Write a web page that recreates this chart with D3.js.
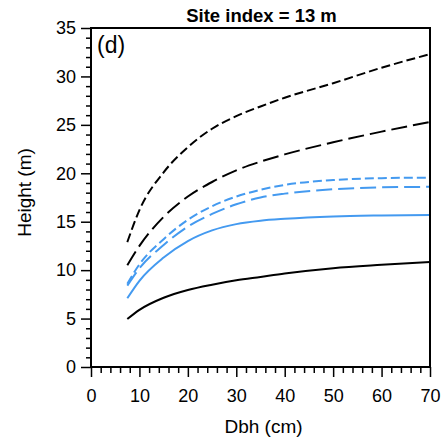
<!DOCTYPE html>
<html>
<head>
<meta charset="utf-8">
<script src="https://cdn.jsdelivr.net/npm/d3@7"></script>
<style>
  body { margin: 0; background: #fff; }
  svg { display: block; font-family: "Liberation Sans", Arial, sans-serif; }
</style>
</head>
<body>
<svg id="chart" width="448" height="442"></svg>
<script>
// ---- data ----
const dbh = [7.5, 10, 15, 20, 25, 30, 35, 40, 50, 60, 70];
const blackSolid  = [4.95, 5.9, 7.15, 7.95, 8.5, 8.95, 9.3, 9.65, 10.2, 10.55, 10.85];
const blueSolid   = [7.1, 8.9, 11.3, 13.0, 14.1, 14.75, 15.1, 15.3, 15.55, 15.65, 15.7];
const blueLong    = [8.4, 10.2, 12.6, 14.5, 15.8, 16.8, 17.5, 17.9, 18.35, 18.55, 18.6];
const blueShort   = [8.6, 10.6, 13.2, 15.2, 16.6, 17.6, 18.3, 18.8, 19.3, 19.5, 19.55];
const blackLong   = [10.5, 12.5, 15.5, 17.6, 19.1, 20.3, 21.2, 21.95, 23.2, 24.3, 25.3];
const blackShort  = [12.9, 16.2, 20.1, 22.7, 24.6, 25.9, 26.9, 27.8, 29.3, 30.9, 32.3];
const xTicks = [0, 10, 20, 30, 40, 50, 60, 70];
const yTicks = [0, 5, 10, 15, 20, 25, 30, 35];
const titleText = "Site index = 13 m";
const panelLabel = "(d)";
const xLabel = "Dbh (cm)";
const yLabel = "Height (m)";

(function () {
// ---- layout ----
const mLeft = 91, mRight = 430, mTop = 28, mBottom = 367;
const blue = "#449AF0";

const svg = d3.select("#chart");
const x = d3.scaleLinear().domain([0, 70]).range([mLeft, mRight]);
const y = d3.scaleLinear().domain([0, 35]).range([mBottom, mTop]);

// series
const series = [
  { values: blackSolid, color: "#000", dash: null },
  { values: blueSolid,  color: blue,   dash: null },
  { values: blueLong,   color: blue,   dash: "16,6" },
  { values: blueShort,  color: blue,   dash: "9,4" },
  { values: blackLong,  color: "#000", dash: "16,6" },
  { values: blackShort, color: "#000", dash: "9,4" }
];
const line = d3.line()
  .x(d => x(d[0]))
  .y(d => y(d[1]))
  .curve(d3.curveMonotoneX);

svg.append("g").selectAll("path")
  .data(series)
  .join("path")
  .attr("d", s => line(dbh.map((v, i) => [v, s.values[i]])))
  .attr("fill", "none")
  .attr("stroke", s => s.color)
  .attr("stroke-width", 2)
  .attr("stroke-dasharray", s => s.dash);

// minor ticks
const yMinor = d3.range(0, 36, 1).filter(v => v % 5 !== 0);
const xMinor = d3.range(0, 71, 2).filter(v => v % 10 !== 0);

const gy = svg.append("g").attr("transform", `translate(${mLeft},0)`);
gy.call(d3.axisLeft(y).tickValues(yMinor).tickSize(5).tickFormat(""));
gy.select(".domain").remove();
const gyM = svg.append("g").attr("transform", `translate(${mLeft},0)`);
gyM.call(d3.axisLeft(y).tickValues(yTicks).tickSize(10).tickPadding(5).tickFormat(d3.format("d")));
gyM.select(".domain").remove();

const gx = svg.append("g").attr("transform", `translate(0,${mBottom})`);
gx.call(d3.axisBottom(x).tickValues(xMinor).tickSize(6).tickFormat(""));
gx.select(".domain").remove();
const gxM = svg.append("g").attr("transform", `translate(0,${mBottom})`);
gxM.call(d3.axisBottom(x).tickValues(xTicks).tickSize(10).tickPadding(12).tickFormat(d3.format("d")));
gxM.select(".domain").remove();

svg.selectAll(".tick line").attr("stroke", "#000").attr("stroke-width", 1.5);
svg.selectAll(".tick text")
  .attr("font-size", 18)
  .attr("fill", "#000")
  .attr("font-family", "Liberation Sans, Arial, sans-serif");

// frame
svg.append("rect")
  .attr("x", mLeft).attr("y", mTop)
  .attr("width", mRight - mLeft).attr("height", mBottom - mTop)
  .attr("fill", "none").attr("stroke", "#000").attr("stroke-width", 2);

// texts
svg.append("text")
  .attr("x", (mLeft + mRight) / 2 + 1).attr("y", 21.5)
  .attr("text-anchor", "middle")
  .attr("font-size", 18.5).attr("font-weight", "bold")
  .text(titleText);

svg.append("text")
  .attr("x", 97).attr("y", 53)
  .attr("font-size", 23)
  .text(panelLabel);

svg.append("text")
  .attr("x", (mLeft + mRight) / 2 + 3).attr("y", 433)
  .attr("text-anchor", "middle")
  .attr("font-size", 19)
  .text(xLabel);

svg.append("text")
  .attr("transform", `translate(31,${(mTop + mBottom) / 2 - 5}) rotate(-90)`)
  .attr("text-anchor", "middle")
  .attr("font-size", 19)
  .text(yLabel);
})();
</script>
</body>
</html>
